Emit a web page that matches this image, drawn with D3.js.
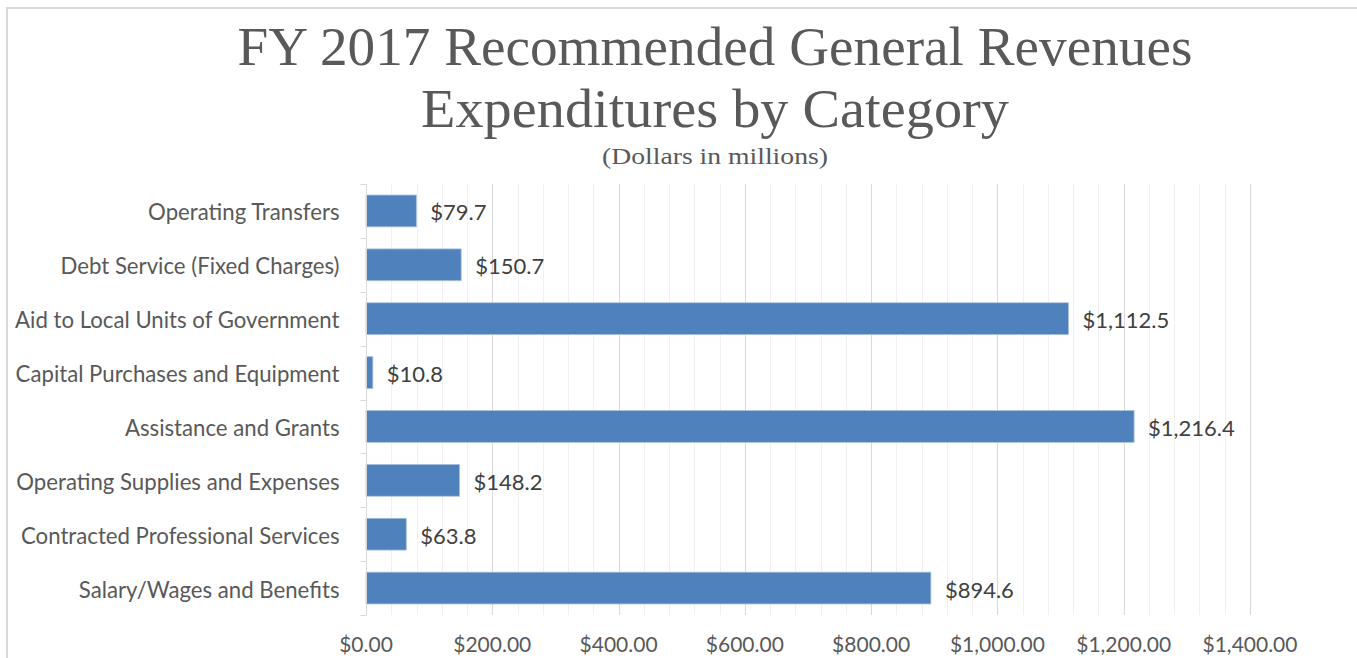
<!DOCTYPE html>
<html>
<head>
<meta charset="utf-8">
<script src="https://cdn.jsdelivr.net/npm/d3@7"></script>
<style>
  html, body { margin: 0; padding: 0; background: #fff; }
  svg { display: block; }
</style>
</head>
<body>
<svg id="chart" width="1357" height="658"></svg>
<script>
// chart data
const categories = [
  'Operating Transfers',
  'Debt Service (Fixed Charges)',
  'Aid to Local Units of Government',
  'Capital Purchases and Equipment',
  'Assistance and Grants',
  'Operating Supplies and Expenses',
  'Contracted Professional Services',
  'Salary/Wages and Benefits'
];
const values = [79.7, 150.7, 1112.5, 10.8, 1216.4, 148.2, 63.8, 894.6];
const xTicks = [0, 200, 400, 600, 800, 1000, 1200, 1400];
const titleLines = ['FY 2017 Recommended General Revenues', 'Expenditures by Category'];
const subtitle = '(Dollars in millions)';

const width = 1357;
const height = 658;
const margin = { top: 184, right: 107, bottom: 43, left: 366 };

const svg = d3.select('#chart');

// outer chart border (only top and left are in frame)
svg.append('path')
  .attr('d', 'M7,' + height + 'V8H' + width)
  .style('fill', 'none')
  .style('stroke', '#d9d9d9')
  .style('stroke-width', 2);

const x = d3.scaleLinear()
  .domain([0, 1400])
  .range([margin.left, width - margin.right]);

const y = d3.scaleBand()
  .domain(categories)
  .range([margin.top, height - margin.bottom])
  .paddingInner(0.41)
  .paddingOuter(0.205);

const plotTop = margin.top;
const plotBottom = height - margin.bottom;

// squeeze a text node horizontally so it spans a given width
function fitWidth(sel, target, cx) {
  const w = sel.node().getComputedTextLength();
  const s = target / w;
  sel.attr('transform', 'translate(' + cx + ',0) scale(' + s + ',1) translate(' + (-cx) + ',0)');
}

// minor gridlines every $40
const minor = d3.range(40, 1401, 40).filter(v => v % 200 !== 0);
svg.append('g')
  .selectAll('line')
  .data(minor)
  .enter().append('line')
  .attr('x1', d => Math.round(x(d)) + 0.5)
  .attr('x2', d => Math.round(x(d)) + 0.5)
  .attr('y1', plotTop)
  .attr('y2', plotBottom)
  .style('stroke', '#f0f0f0')
  .style('stroke-width', 1);

// major gridlines
svg.append('g')
  .selectAll('line')
  .data(xTicks.slice(1))
  .enter().append('line')
  .attr('x1', d => Math.round(x(d)) + 0.5)
  .attr('x2', d => Math.round(x(d)) + 0.5)
  .attr('y1', plotTop)
  .attr('y2', plotBottom)
  .style('stroke', '#d9d9d9')
  .style('stroke-width', 1);

// bars
svg.append('g')
  .selectAll('rect')
  .data(values)
  .enter().append('rect')
  .attr('x', x(0))
  .attr('y', (d, i) => y(categories[i]))
  .attr('width', d => x(d) - x(0))
  .attr('height', y.bandwidth())
  .style('fill', '#4f81bd')
  .style('stroke', '#a7c0de')
  .style('stroke-width', 0.8);

// value labels
const fmtVal = d3.format('$,.1f');
svg.append('g')
  .selectAll('text')
  .data(values)
  .enter().append('text')
  .attr('x', d => x(d) + 14)
  .attr('y', (d, i) => y(categories[i]) + y.bandwidth() / 2 + 1)
  .attr('dominant-baseline', 'central')
  .style('font-family', 'Lato, "Open Sans", sans-serif')
  .style('font-size', '22px')
  .style('fill', '#404040')
  .text(d => fmtVal(d));

// category axis
const yAxis = svg.append('g')
  .attr('transform', 'translate(' + (margin.left + 0.5) + ',0)');
yAxis.append('line')
  .attr('x1', 0).attr('x2', 0)
  .attr('y1', plotTop).attr('y2', plotBottom)
  .style('stroke', '#d9d9d9');
yAxis.selectAll('.tick')
  .data(d3.range(categories.length + 1))
  .enter().append('line')
  .attr('x1', -6).attr('x2', 0)
  .attr('y1', i => Math.round(plotTop + i * (plotBottom - plotTop) / categories.length) + 0.5)
  .attr('y2', i => Math.round(plotTop + i * (plotBottom - plotTop) / categories.length) + 0.5)
  .style('stroke', '#d9d9d9');
yAxis.selectAll('text')
  .data(categories)
  .enter().append('text')
  .attr('x', -27)
  .attr('y', d => y(d) + y.bandwidth() / 2 + 1)
  .attr('text-anchor', 'end')
  .attr('dominant-baseline', 'central')
  .style('font-family', 'Lato, "Open Sans", sans-serif')
  .style('font-size', '22.2px')
  .style('fill', '#595959')
  .text(d => d);

// value axis labels
const fmtTick = d3.format('$,.2f');
svg.append('g')
  .selectAll('text')
  .data(xTicks)
  .enter().append('text')
  .attr('x', d => x(d))
  .attr('y', 643)
  .attr('text-anchor', 'middle')
  .attr('dominant-baseline', 'central')
  .style('font-family', 'Lato, "Open Sans", sans-serif')
  .style('font-size', '21px')
  .style('fill', '#595959')
  .text(d => fmtTick(d));

// title
const titleCx = 715;
const titleTargets = [955, 588];
const titleBase = [65, 127];
titleLines.forEach((t, i) => {
  const txt = svg.append('text')
    .attr('x', titleCx)
    .attr('y', titleBase[i])
    .attr('text-anchor', 'middle')
    .style('font-family', '"Liberation Serif", "DejaVu Serif", serif')
    .style('font-size', '54px')
    .style('fill', '#595959')
    .text(t);
  fitWidth(txt, titleTargets[i], titleCx);
});

const sub = svg.append('text')
  .attr('x', titleCx)
  .attr('y', 164)
  .attr('text-anchor', 'middle')
  .style('font-family', '"Liberation Serif", "DejaVu Serif", serif')
  .style('font-size', '23px')
  .style('fill', '#595959')
  .text(subtitle);
fitWidth(sub, 226, titleCx);
</script>
</body>
</html>
